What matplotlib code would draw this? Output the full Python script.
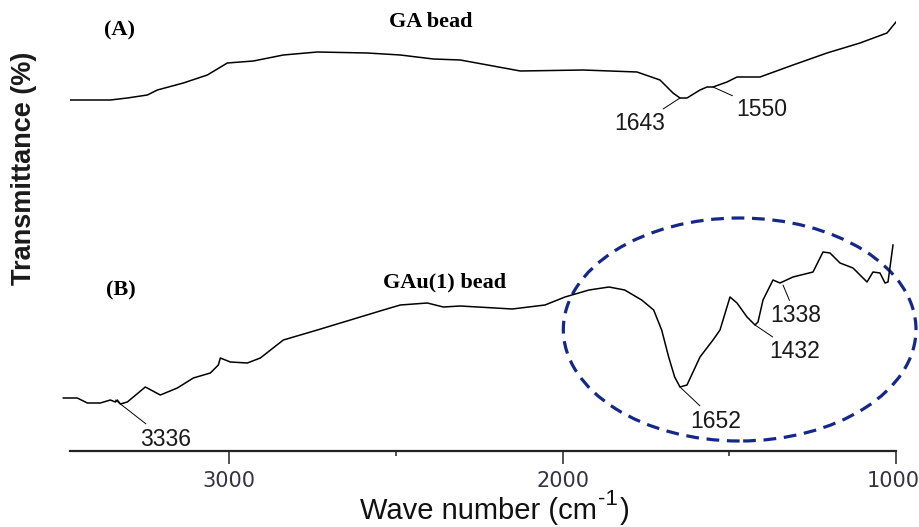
import matplotlib.pyplot as plt
from matplotlib.patches import Ellipse
from matplotlib.transforms import ScaledTranslation

# spectrum (A) GA bead: wave number (cm-1) vs transmittance (arbitrary units)
wn_a = [3477, 3357, 3306, 3246, 3216, 3138, 3066, 3006, 2928, 2838, 2736,
        2586, 2487, 2388, 2307, 2127, 1939, 1777, 1708, 1669, 1648, 1627,
        1588, 1567, 1549, 1507, 1477, 1408, 1309, 1207, 1108, 1027, 1000]
tr_a = [351, 351, 353, 356, 361, 368, 376, 388, 390, 396, 399,
        398, 396, 392, 391, 380, 381, 379, 371, 358, 353, 353,
        361, 364, 364, 369, 374, 374, 386, 398, 408, 418, 429]

# spectrum (B) GAu(1) bead
wn_b = [3498, 3456, 3426, 3387, 3357, 3342, 3336, 3327, 3306, 3252, 3207,
        3156, 3108, 3057, 3033, 3027, 2997, 2946, 2907, 2838, 2736, 2637,
        2538, 2487, 2406, 2358, 2307, 2151, 2053, 1993, 1921, 1861, 1814,
        1763, 1727, 1703, 1682, 1664, 1648, 1627, 1588, 1549, 1528, 1498,
        1477, 1447, 1423, 1414, 1399, 1369, 1348, 1309, 1249, 1219, 1198,
        1168, 1129, 1087, 1069, 1048, 1033, 1024, 1009]
tr_b = [53, 53, 48, 48, 51, 49, 51, 47, 49, 64, 56,
        63, 73, 78, 86, 93, 89, 88, 93, 111, 121, 131,
        141, 146, 148, 144, 145, 142, 146, 154, 161, 164, 161,
        151, 141, 121, 94, 74, 64, 66, 94, 111, 121, 154,
        148, 134, 126, 129, 151, 171, 168, 174, 179, 199, 198,
        188, 183, 169, 179, 178, 168, 169, 206]

# peak labels: text, peak position, label position
peaks_a = [("1643", (1648, 353), (1768, 327)),
           ("1550", (1549, 364), (1402, 342))]
peaks_b = [("3336", (3342, 51), (3192, 12)),
           ("1652", (1648, 64), (1540, 30)),
           ("1432", (1423, 126), (1303, 99)),
           ("1338", (1339, 166), (1300, 135))]

fig = plt.figure(figsize=(9.2, 5.27), dpi=100)
ax = fig.add_axes([70 / 920, 76 / 527, 826 / 920, 451 / 527])

ax.plot(wn_a, tr_a, color='black', lw=1.1)
ax.plot(wn_b, tr_b, color='black', lw=1.1, clip_on=False)

for txt, xy, xyt in peaks_a + peaks_b:
    ax.annotate(txt, xy=xy, xytext=xyt, ha='center', va='center',
                fontsize=16.5, family='Liberation Sans', color='#1a1a1a',
                arrowprops=dict(arrowstyle='-', lw=0.7, color='black',
                                shrinkA=1, shrinkB=0))

serif = dict(family='Liberation Serif', fontweight='bold', fontsize=16,
             ha='center', va='center')
ax.text(3330, 421, '(A)', **serif)
ax.text(2397, 429, 'GA bead', **serif)
ax.text(3324, 161, '(B)', **serif)
ax.text(2355, 169, 'GAu(1) bead', **serif)

# dashed circle round the fingerprint region of (B)
ax.add_patch(Ellipse((1469, 121.5), 1058, 223, fill=False, edgecolor='#15288a',
                     lw=2.3, linestyle=(0, (4, 2.4)), clip_on=False))

ax.set_xlim(3478, 1000)
ax.set_ylim(0, 451)
ax.set_xticks([3000, 2000, 1000])
ax.set_xticks([2500, 1500], minor=True)
ax.set_yticks([])
for s in ['left', 'top', 'right']:
    ax.spines[s].set_visible(False)
ax.spines['bottom'].set_linewidth(1.6)
ax.spines['bottom'].set_color('#222222')
ax.tick_params(axis='x', which='major', direction='out', length=9.5, width=1.1,
               pad=5, labelsize=15, labelcolor='#333344', color='#222222')
ax.tick_params(axis='x', which='minor', direction='out', length=3.8, width=1.1,
               color='#222222')
# last label sits on the figure edge, nudge it in a little
last = ax.get_xticklabels()[-1]
last.set_transform(last.get_transform() + ScaledTranslation(-3 / 100, 0, fig.dpi_scale_trans))

# x label built from pieces so the superscript keeps a plain hyphen
lab_font = dict(fontsize=21, family='Liberation Sans', color='#111111')
t1 = fig.text(360 / 920, 8 / 527, 'Wave number (cm', ha='left',
              va='baseline', **lab_font)
t2 = ax.annotate('-1', xy=(1.0, 0.55), xycoords=t1, xytext=(1, 0),
                 textcoords='offset points', ha='left', va='bottom',
                 fontsize=16, family='Liberation Sans', color='#111111',
                 annotation_clip=False)
ax.annotate(')', xy=(1.0, 0.0), xycoords=(t2, t1), xytext=(1, 0),
            textcoords='offset points', ha='left', va='bottom',
            annotation_clip=False, **lab_font)

fig.text(24 / 920, 1 - 168 / 527, 'Transmittance (%)', rotation=90,
         ha='center', va='center', fontsize=19.5, fontweight='bold',
         family='Liberation Sans', color='#1a1a1a')

fig.savefig('out.png', dpi=100)
